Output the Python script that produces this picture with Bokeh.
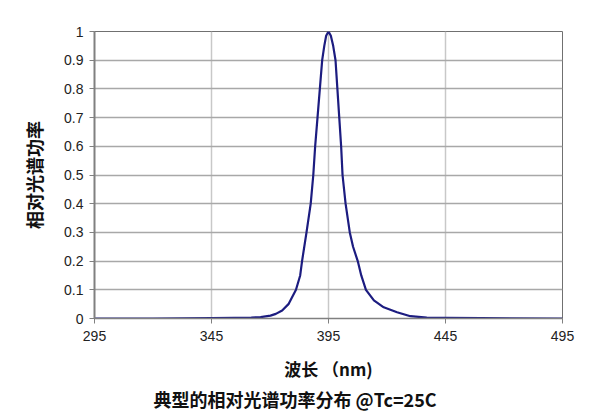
from bokeh.plotting import figure
from bokeh.models import Range1d, FixedTicker, Title
from bokeh.embed import file_html
from bokeh.resources import INLINE

# Data
wavelength = [295, 320, 345, 355, 362, 366, 370.2, 372.5, 375.2, 378, 381.1, 382.9,
              383.7, 385.6, 387.4, 388.5, 389.3, 390.3, 391.3, 392.3, 393.2, 394.0,
              395.0, 396.0, 397.0, 398.0, 398.8, 399.6, 400.4, 401.0, 402.3, 404.1,
              405.5, 407.5, 409.0, 411.0, 414.4, 418.6, 424.3, 430.0, 437.0, 445, 460, 495]
intensity = [0.0, 0.0, 0.001, 0.002, 0.003, 0.005, 0.010, 0.016, 0.028, 0.051, 0.10, 0.15,
             0.20, 0.30, 0.40, 0.50, 0.60, 0.70, 0.80, 0.90, 0.95, 0.985,
             1.0, 0.985, 0.95, 0.90, 0.80, 0.70, 0.60, 0.50, 0.40, 0.30,
             0.25, 0.20, 0.15, 0.10, 0.063, 0.039, 0.022, 0.008, 0.003, 0.002, 0.001, 0.0]

x_ticks = [295, 345, 395, 445, 495]
x_tick_labels = ["295", "345", "395", "445", "495"]
y_ticks = [0, 0.1, 0.2, 0.3, 0.4, 0.5, 0.6, 0.7, 0.8, 0.9, 1.0]
y_tick_labels = ["0", "0.1", "0.2", "0.3", "0.4", "0.5", "0.6", "0.7", "0.8", "0.9", "1"]

x_label = "波长 （nm)"
y_label = "相对光谱功率"
title_text = "典型的相对光谱功率分布 @Tc=25C"

W, H = 608, 411
p = figure(width=W, height=H, output_backend="svg", toolbar_location=None,
           x_range=Range1d(295, 495), y_range=Range1d(0, 1),
           min_border_left=94, min_border_right=46, min_border_top=31,
           min_border_bottom=93)
p.background_fill_color = "white"
p.border_fill_color = "white"
p.outline_line_color = "#707070"
p.outline_line_width = 1

p.line(wavelength, intensity, line_color="#1c1c80", line_width=2.2, line_join="round")

# axes
p.xaxis.ticker = FixedTicker(ticks=x_ticks)
p.yaxis.ticker = FixedTicker(ticks=y_ticks)
p.xaxis.major_label_overrides = {t: l for t, l in zip(x_ticks, x_tick_labels)}
p.yaxis.major_label_overrides = {t: l for t, l in zip(y_ticks, y_tick_labels)}
for ax in (p.xaxis[0], p.yaxis[0]):
    ax.major_label_text_font = "Liberation Sans"
    ax.major_label_text_font_size = "14px"
    ax.major_label_text_color = "#222222"
    ax.minor_tick_line_color = None
    ax.major_tick_in = 0
    ax.major_tick_out = 5
    ax.major_tick_line_color = "#808080"
    ax.axis_line_color = "#808080"
    ax.axis_label_text_font = "Noto Sans CJK SC"
    ax.axis_label_text_font_style = "bold"
    ax.axis_label_text_color = "#111111"
p.yaxis.axis_line_width = 2
p.xaxis.axis_line_width = 1.5
p.yaxis.major_label_standoff = 6
p.xaxis.major_label_standoff = 7
p.xaxis.axis_label = x_label
p.yaxis.axis_label = y_label
p.xaxis.axis_label_text_font_size = "17px"
p.yaxis.axis_label_text_font_size = "18px"
p.xaxis.axis_label_standoff = 12
p.yaxis.axis_label_standoff = 14

p.xgrid.ticker = FixedTicker(ticks=x_ticks)
p.ygrid.ticker = FixedTicker(ticks=y_ticks)
p.xgrid.grid_line_color = "#c8c8c8"
p.ygrid.grid_line_color = "#a8a8a8"
p.xgrid.grid_line_width = 1.5
p.ygrid.grid_line_width = 1.5

p.add_layout(Title(text=title_text, align="left", offset=59, standoff=0,
                   text_font="Noto Sans CJK SC", text_font_size="18px",
                   text_font_style="bold", text_color="#111111"), "below")

open("out.html", "w").write(file_html(p, INLINE))
